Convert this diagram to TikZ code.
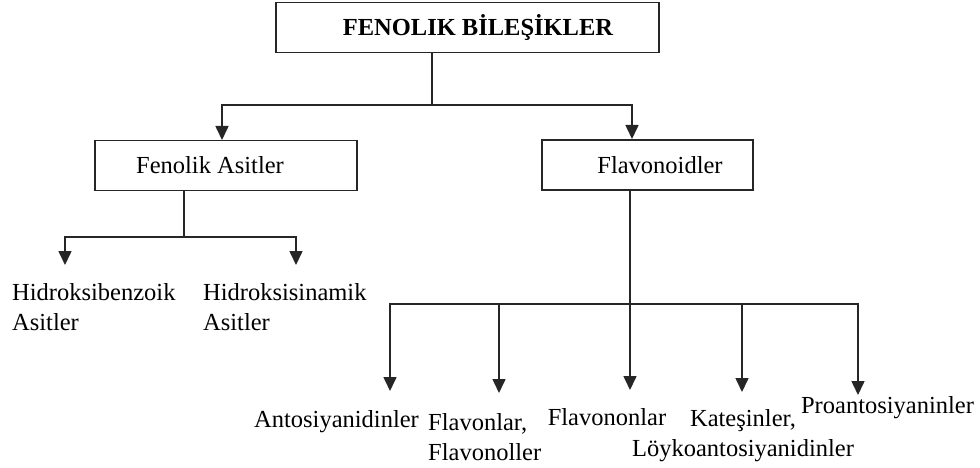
\documentclass[tikz,border=0pt]{standalone}
\usepackage{fontspec}
\setmainfont{Liberation Serif}
\usetikzlibrary{arrows.meta}
\begin{document}
\begin{tikzpicture}[x=1pt,y=-1pt,
  box/.style={draw=black!85,line width=1.8pt,minimum height=50pt,inner sep=0pt,
    font=\fontsize{24.5}{29}\selectfont},
  leaf/.style={inner sep=0pt,font=\fontsize{24.5}{30}\selectfont},
  link/.style={draw=black!85,line width=1.6pt},
  arr/.style={link,-{Triangle[width=13pt,length=14pt]}}]
\useasboundingbox (0,0) rectangle (980,468);
% boxes
\node[box,minimum width=383pt,font=\fontsize{24.5}{29}\selectfont\bfseries] (top) at (467.5,27.5) {\hspace*{21pt}FENOLIK BİLEŞİKLER};
\node[box,minimum width=262pt] (fa) at (226,165.5) {Fenolik Asitler\hspace*{32pt}};
\node[box,minimum width=211pt] (fl) at (647.5,165) {\hspace*{25pt}Flavonoidler};
% junctions and arrow tips
\coordinate (j0) at (432,105);
\coordinate (fatop) at (222,140);
\coordinate (fltop) at (632,139);
\coordinate (j1) at (184,237);
\coordinate (a1) at (65,265);
\coordinate (a2) at (296,265);
\coordinate (j2) at (630,304);
\coordinate (b1) at (390,391);
\coordinate (b2) at (499,393);
\coordinate (b3) at (630,390);
\coordinate (b4) at (742,392);
\coordinate (b5) at (858,395);
% leaves
\node[leaf,anchor=west,align=left] (hb) at (12,307) {Hidroksibenzoik\\Asitler};
\node[leaf,anchor=west,align=left] (hs) at (203,307) {Hidroksisinamik\\Asitler};
\node[leaf] (an) at (336.5,422) {Antosiyanidinler};
\node[leaf,anchor=west,align=left] (fv) at (428,437) {Flavonlar,\\Flavonoller};
\node[leaf] (fn) at (607,417) {Flavononlar};
\node[leaf,align=center] (ka) at (743,436) {Kateşinler,\\Löykoantosiyanidinler};
\node[leaf] (pr) at (887.5,408) {Proantosiyaninler};
% connectors
\draw[link] (top.south -| j0) -- (j0);
\draw[arr] (j0) -| (fatop);
\draw[arr] (j0) -| (fltop);
\draw[link] (fa.south -| j1) -- (j1);
\draw[arr] (j1) -| (a1);
\draw[arr] (j1) -| (a2);
\draw[link] (fl.south -| j2) -- (j2);
\draw[arr] (j2) -| (b1);
\draw[arr] (j2) -| (b2);
\draw[arr] (j2) -- (b3);
\draw[arr] (j2) -| (b4);
\draw[arr] (j2) -| (b5);
\end{tikzpicture}
\end{document}
